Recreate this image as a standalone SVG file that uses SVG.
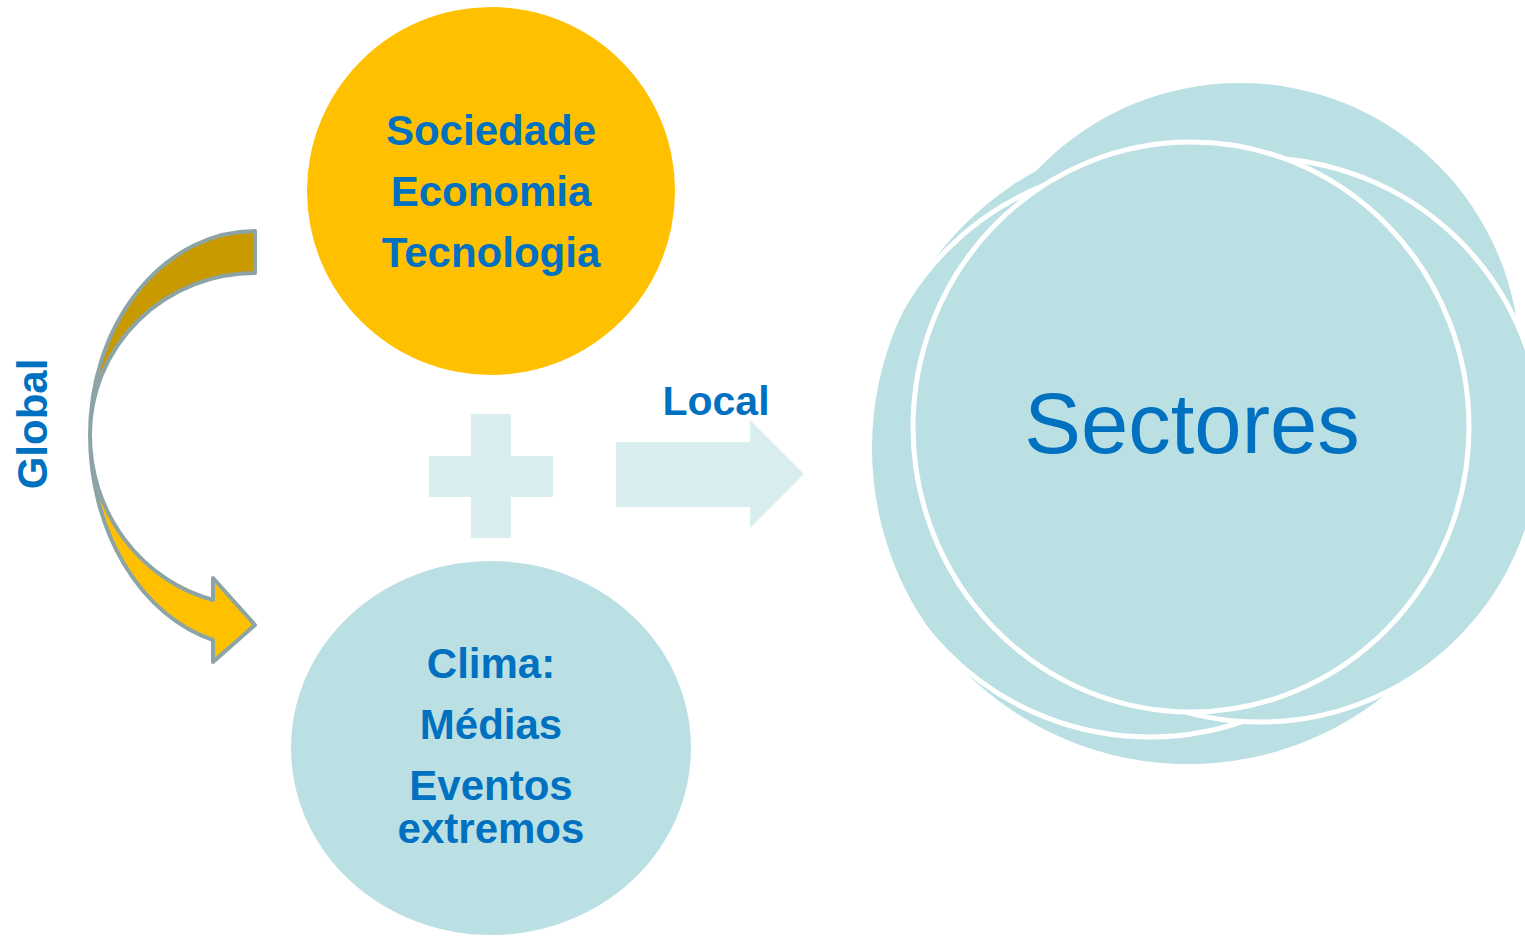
<svg xmlns="http://www.w3.org/2000/svg" width="1525" height="937" viewBox="0 0 1525 937">
<style>
.t{font-family:"Liberation Sans",Arial,sans-serif;fill:#0070C0;text-anchor:middle}
.b{font-weight:bold;font-size:42px}
.teal{fill:#BBE0E3}
.ring{fill:#BBE0E3;stroke:#FFFFFF;stroke-width:5}
.line{fill:none;stroke:#FFFFFF;stroke-width:5}
.pale{fill:#DAEDEF}
.arr{stroke:#8DA4A7;stroke-width:4;stroke-linejoin:round}
</style>
<rect width="1525" height="937" fill="#FFFFFF"/>
<g id="connectors">
  <g id="curved-arrow">
    <path class="arr" fill="#FFC000" d="M90,435 A165,212 0 0 0 213,640 L213,662 L255,625 L213,578 L213,600 A165,170.6 0 0 1 90,435 Z"/>
    <path class="arr" fill="#C99A00" d="M255,231 A165,204 0 0 0 90,435 A165,162 0 0 1 255,273 Z"/>
  </g>
  <path id="plus" class="pale" d="M471,414 H511 V456 H553 V497 H511 V538 H471 V497 H429 V456 H471 Z"/>
  <path id="local-arrow" class="pale" d="M616,442 H750 V420 L804,474 L750,528 V507 H616 Z"/>
</g>
<text class="t b" transform="translate(47,424) rotate(-90)" x="0" y="0">Global</text>
<text class="t b" x="716" y="415" style="font-size:41px">Local</text>
<g id="node-sociedade">
  <circle cx="491" cy="191" r="184" fill="#FFC000"/>
  <text class="t b" x="491" y="145">Sociedade</text>
  <text class="t b" x="491" y="206">Economia</text>
  <text class="t b" x="491" y="267">Tecnologia</text>
</g>
<g id="node-clima">
  <ellipse cx="491" cy="748" rx="200" ry="187" class="teal"/>
  <text class="t b" x="491" y="678">Clima:</text>
  <text class="t b" x="491" y="739">Médias</text>
  <text class="t b" x="491" y="800">Eventos</text>
  <text class="t b" x="491" y="843">extremos</text>
</g>
<g id="node-sectores">
  <circle cx="1188" cy="448" r="316" class="teal"/>
  <circle cx="1240" cy="363" r="280" class="teal"/>
  <circle cx="1150" cy="451" r="286" class="line"/>
  <circle cx="1260" cy="440" r="282" class="ring"/>
  <ellipse cx="1191" cy="427" rx="278" ry="285" class="ring"/>
  <text class="t" x="1192" y="453" font-size="85">Sectores</text>
</g>
</svg>
